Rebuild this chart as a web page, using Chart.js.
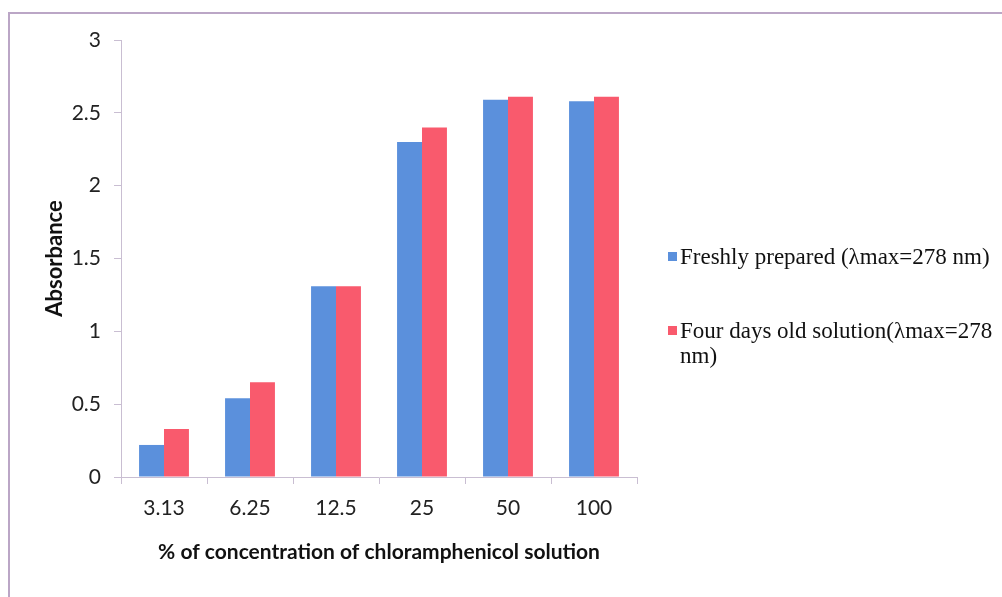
<!DOCTYPE html>
<html>
<head>
<meta charset="utf-8">
<script src="https://cdn.jsdelivr.net/npm/chart.js@4.4.1/dist/chart.umd.min.js"></script>
<style>
  html, body { margin: 0; padding: 0; background: #fff; }
  #wrap { position: relative; width: 1002px; height: 597px; overflow: hidden; }
  #frame { position: absolute; left: 8px; top: 12px; width: 1000px; height: 600px;
           border: 2px solid #bba6c6; box-sizing: border-box; }
  #chart { position: absolute; left: 0; top: 0; }
  #legend { position: absolute; left: 668px; top: 244px; width: 332px;
            font-family: "Liberation Serif", "Times New Roman", serif; font-size: 23px;
            line-height: 25px; color: #111; }
  .item { display: flex; align-items: flex-start; margin-bottom: 49px; }
  .box { width: 9px; height: 9px; flex: none; margin: 8px 3px 0 0; }
</style>
</head>
<body>
<div id="wrap">
  <div id="frame"></div>
  <canvas id="chart" width="1002" height="597"></canvas>
  <div id="legend"></div>
</div>
<script>
/* Absorbance of chloramphenicol solutions — grouped bar chart */
const categories = ['3.13', '6.25', '12.5', '25', '50', '100'];
const freshValues = [0.22, 0.54, 1.31, 2.30, 2.59, 2.58];
const oldValues   = [0.33, 0.65, 1.31, 2.40, 2.61, 2.61];
const seriesLabels = ['Freshly prepared (\u03bbmax=278 nm)', 'Four days old solution(\u03bbmax=278 nm)'];
const seriesColors = ['#5b90dc', '#f95a6d'];

const axisColor = '#c9bed2';
const tickFont = { family: 'Lato, "Open Sans", sans-serif', size: 21 };
const xTitleFont = { family: 'Lato, "Open Sans", sans-serif', size: 21, weight: 'bold' };
const yTitleFont = { family: 'Lato, "Open Sans", sans-serif', size: 22, weight: 'bold' };

const chart = new Chart(document.getElementById('chart').getContext('2d'), {
  type: 'bar',
  data: {
    labels: categories,
    datasets: [
      { label: seriesLabels[0], data: freshValues, backgroundColor: seriesColors[0],
        categoryPercentage: 0.58, barPercentage: 1 },
      { label: seriesLabels[1], data: oldValues, backgroundColor: seriesColors[1],
        categoryPercentage: 0.58, barPercentage: 1 },
    ],
  },
  options: {
    responsive: false, animation: false,
    layout: { padding: { top: 40, right: 365, left: 0, bottom: 0 } },
    plugins: { legend: { display: false }, tooltip: { enabled: false } },
    scales: {
      x: {
        grid: { drawOnChartArea: false, drawTicks: true, tickLength: 7, color: axisColor },
        border: { display: true, color: axisColor },
        ticks: { color: '#222', font: tickFont, padding: 12 },
        title: { display: true, text: '% of concentration of chloramphenicol solution',
                 color: '#111', font: xTitleFont, padding: { top: 4, bottom: 32 } },
        afterFit(scale) { scale.height = 120; },
      },
      y: {
        min: 0, max: 3,
        grid: { drawOnChartArea: false, drawTicks: true, tickLength: 7, color: axisColor },
        border: { display: true, color: axisColor },
        ticks: { stepSize: 0.5, color: '#222', font: tickFont, padding: 13,
                 callback: v => String(v) },
        title: { display: true, text: 'Absorbance', color: '#111', font: yTitleFont,
                 padding: { top: 42, bottom: 0 } },
        afterFit(scale) { scale.width = 121; },
      },
    },
  },
});

// legend on the right, built from the datasets so the long label can wrap
const legendEl = document.getElementById('legend');
chart.data.datasets.forEach(ds => {
  const item = document.createElement('div');
  item.className = 'item';
  const box = document.createElement('span');
  box.className = 'box';
  box.style.background = ds.backgroundColor;
  const txt = document.createElement('span');
  txt.textContent = ds.label;
  item.appendChild(box);
  item.appendChild(txt);
  legendEl.appendChild(item);
});
</script>
</body>
</html>
